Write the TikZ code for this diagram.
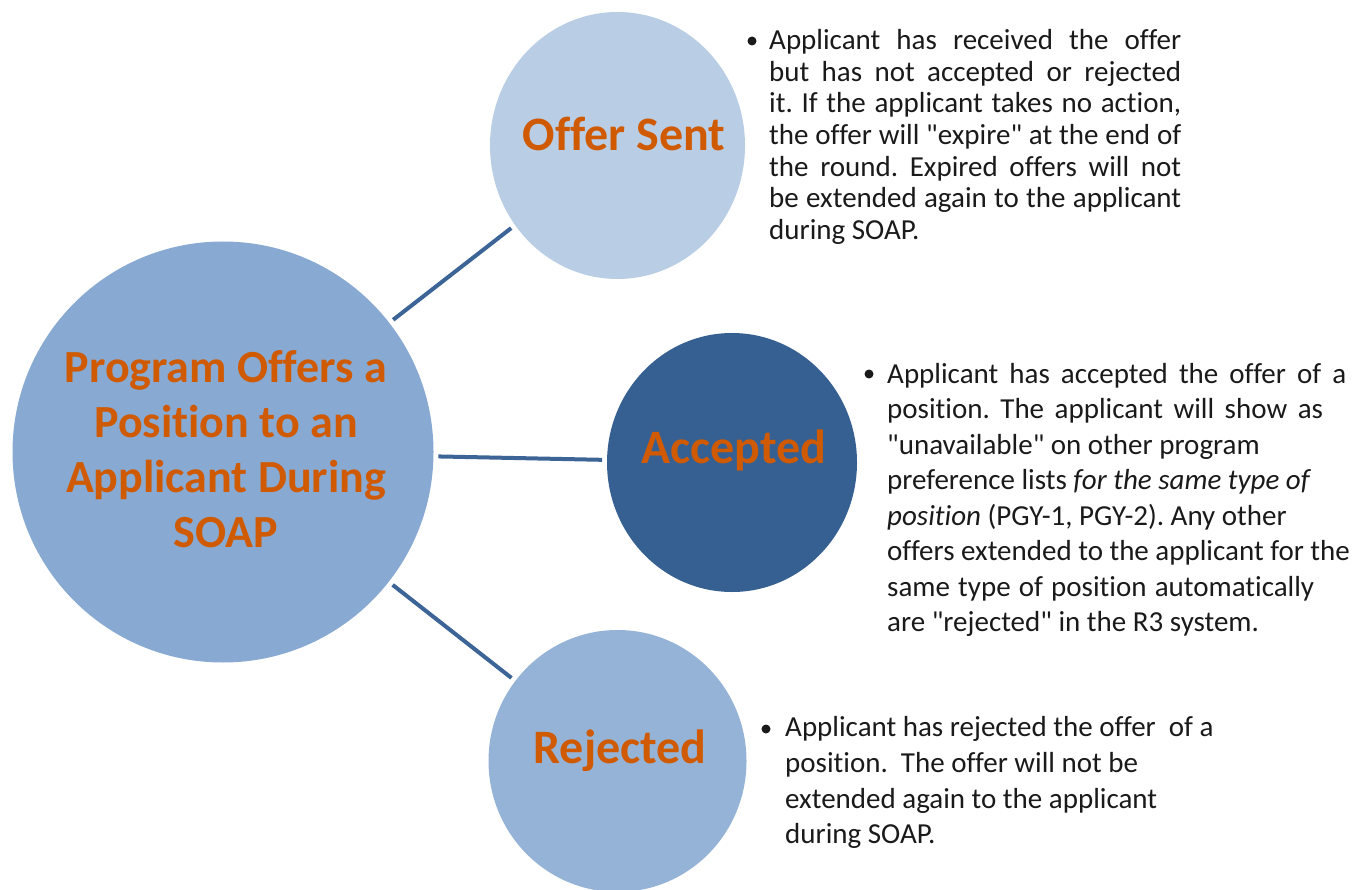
\documentclass[tikz,border=0pt]{standalone}
\usepackage{fontspec}
\usetikzlibrary{shapes.geometric}
\setmainfont{Carlito}[Ligatures={TeXOff,NoCommon}]
\definecolor{bigfill}{HTML}{88A9D2}
\definecolor{offerfill}{HTML}{B9CDE5}
\definecolor{accfill}{HTML}{376092}
\definecolor{rejfill}{HTML}{95B3D7}
\definecolor{linkcol}{HTML}{3C6496}
\definecolor{titlecol}{HTML}{D05A00}
\definecolor{bodycol}{HTML}{1A1A1A}
\newcommand{\titlefont}{\fontsize{46}{52}\bfseries\selectfont}
\newcommand{\smalltitlefont}{\fontsize{48}{54}\bfseries\selectfont}
\newcommand{\bodyfont}{\fontsize{29}{33}\selectfont}
\newcommand{\jline}[2]{\makebox[#1][s]{#2}}
\frenchspacing
\tikzset{
  bubble/.style={ellipse, inner sep=0pt, outer sep=0pt, draw=none},
  link/.style={draw=linkcol, line width=4pt, shorten <=5pt, shorten >=5pt},
  ttl/.style={anchor=base, inner sep=0pt, text=titlecol, font=\titlefont},
  sttl/.style={ttl, font=\smalltitlefont},
  bodytxt/.style={anchor=base west, inner sep=0pt, text=bodycol, font=\bodyfont},
  bul/.style={circle, fill=bodycol, inner sep=0pt, minimum size=9pt}
}
\begin{document}
\begin{tikzpicture}[x=1pt, y=-1pt]
\useasboundingbox[fill=white] (0,0) rectangle (1356,890);
% bubbles
\node[bubble, fill=bigfill, minimum width=421pt, minimum height=421pt] (main) at (223,452) {};
\node[bubble, fill=offerfill, minimum width=255pt, minimum height=267pt] (offer) at (617.5,145.5) {};
\node[bubble, fill=accfill, minimum width=250pt, minimum height=259pt] (acc) at (732,462.5) {};
\node[bubble, fill=rejfill, minimum width=258pt, minimum height=262pt] (rej) at (617.5,761) {};
% connectors
\draw[link] (main) -- (offer);
\draw[link] (main) -- (acc);
\draw[link] (main) -- (rej);
% titles
\node[ttl] (t1) at (226,382) {Program Offers a};
\node[ttl] (t2) at (226,437) {Position to an};
\node[ttl] (t3) at (226,492) {Applicant During};
\node[ttl] (t4) at (226,547) {SOAP};
\node[sttl] (tos) at (624,151) {Offer Sent};
\node[sttl] (tacc) at (734,463) {Accepted};
\node[sttl] (trej) at (620,763) {Rejected};
% offer sent text
\node[bul] (b1) at (752,41) {};
\node[bodytxt] (os1) at (769,50) {\jline{412pt}{Applicant has received the offer}};
\node[bodytxt] (os2) at (769,82) {\jline{412pt}{but has not accepted or rejected}};
\node[bodytxt] (os3) at (769,113) {\jline{412pt}{it. If the applicant takes no action,}};
\node[bodytxt] (os4) at (769,145) {\jline{412pt}{the offer will "expire" at the end of}};
\node[bodytxt] (os5) at (769,177) {\jline{412pt}{the round. Expired offers will not}};
\node[bodytxt] (os6) at (769,208) {\jline{412pt}{be extended again to the applicant}};
\node[bodytxt] (os7) at (769,240) {during SOAP.};
% accepted text
\node[bul] (b2) at (869,374) {};
\node[bodytxt] (ac1) at (887,383) {\jline{459pt}{Applicant has accepted the offer of a}};
\node[bodytxt] (ac2) at (887,418.5) {\jline{436pt}{position. The applicant will show as}};
\node[bodytxt] (ac3) at (887,454) {"unavailable" on other program};
\node[bodytxt] (ac4) at (887,489.5) {preference lists \textit{for the same type of}};
\node[bodytxt] (ac5) at (887,525) {\textit{position} (PGY-1, PGY-2). Any other};
\node[bodytxt] (ac6) at (887,560.5) {offers extended to the applicant for the};
\node[bodytxt] (ac7) at (887,596) {\jline{427pt}{same type of position automatically}};
\node[bodytxt] (ac8) at (887,631.5) {are "rejected" in the R3 system.};
% rejected text
\node[bul] (b3) at (766,729) {};
\node[bodytxt] (rj1) at (785,736) {Applicant has rejected the offer\ \ of a};
\node[bodytxt] (rj2) at (785,772) {position.\ \ The offer will not be};
\node[bodytxt] (rj3) at (785,808) {extended again to the applicant};
\node[bodytxt] (rj4) at (785,843) {during SOAP.};
\end{tikzpicture}
\end{document}
